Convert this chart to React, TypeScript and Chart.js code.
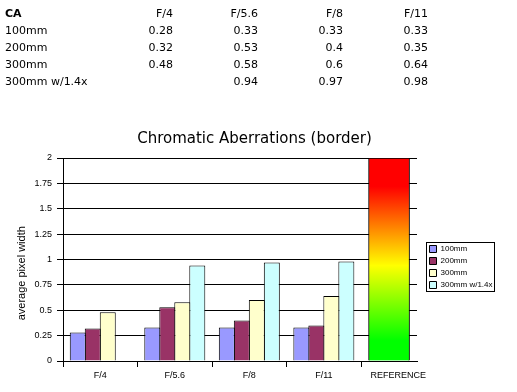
import React, { useEffect, useRef } from 'react';
import { Chart, registerables } from 'chart.js';

Chart.register(...registerables);

// ---------- data ----------
const tableHeader = 'CA';
const categories = ['F/4', 'F/5.6', 'F/8', 'F/11'];
const referenceCategory = 'REFERENCE';
const seriesNames = ['100mm', '200mm', '300mm', '300mm w/1.4x'];
const values100mm = [0.28, 0.33, 0.33, 0.33];
const values200mm = [0.32, 0.53, 0.4, 0.35];
const values300mm = [0.48, 0.58, 0.6, 0.64];
const values300mmTc = [null, 0.94, 0.97, 0.98];
const referenceValue = 2;
const yTickValues = [0, 0.25, 0.5, 0.75, 1, 1.25, 1.5, 1.75, 2];
const chartTitle = 'Chromatic Aberrations (border)';
const yAxisTitle = 'average pixel width';

const seriesValues = [values100mm, values200mm, values300mm, values300mmTc];
const seriesColors = ['#9999FF', '#993366', '#FFFFCC', '#CCFFFF'];

// x axis: category bands of width 1, the last (reference) band is narrower
const X_MIN = -0.5;
const X_MAX = 4.25;
const xLabels = [...categories, referenceCategory];
const referenceX = (categories.length - 0.5 + X_MAX) / 2;
// share of a category band covered by one group of bars
const GROUP_SHARE = 0.805;
// Chart.js sizes grouped bars from the smallest gap between x values on the axis
const MIN_GAP = Math.min(1, referenceX - (categories.length - 1));

const SANS = "'Liberation Sans', Arial, sans-serif";
const WIDE = "'DejaVu Sans', Verdana, sans-serif";

const tableRight = [173, 258, 343, 428];

function referenceGradient(ctx: any) {
  const chart = ctx.chart;
  const y = chart.scales && chart.scales.y;
  if (!y || !chart.chartArea) return '#ff0000';
  const g = chart.ctx.createLinearGradient(0, y.getPixelForValue(referenceValue), 0, y.getPixelForValue(0));
  g.addColorStop(0, '#ff0000');
  g.addColorStop(0.14, '#ff0000');
  g.addColorStop(0.53, '#ffff00');
  g.addColorStop(0.9, '#00ff00');
  g.addColorStop(1, '#00ff00');
  return g;
}

const legendBoxPlugin = {
  id: 'legendBox',
  afterLayout(chart: any) {
    const lg = chart.legend;
    if (!lg) return;
    lg.left += 8.5;
    lg.right = lg.left + 90;
    lg.width = 90;
    lg.top += 7.5;
    lg.bottom += 7.5;
  },
  afterDraw(chart: any) {
    const lg = chart.legend;
    if (!lg || !lg.legendHitBoxes || !lg.legendHitBoxes.length) return;
    const hb = lg.legendHitBoxes;
    const x0 = Math.min(...hb.map((h: any) => h.left)) - 3;
    const x1 = Math.max(...hb.map((h: any) => h.left + h.width)) + 1.5;
    const y0 = hb[0].top - 3;
    const last = hb[hb.length - 1];
    const y1 = last.top + last.height + 2.5;
    const c = chart.ctx;
    c.save();
    c.strokeStyle = '#000';
    c.lineWidth = 1;
    const px = (v: number) => Math.round(v - 0.5) + 0.5;
    c.strokeRect(px(x0), px(y0), px(x1) - px(x0), px(y1) - px(y0));
    c.restore();
  },
};

export default function App() {
  const ref = useRef<HTMLCanvasElement>(null);

  useEffect(() => {
    if (!ref.current) return;
    Chart.defaults.font.family = SANS;
    Chart.defaults.color = '#000';

    const datasets: any[] = seriesNames.map((name, s) => ({
      label: name,
      data: categories.map((_, i) => ({ x: i, y: seriesValues[s][i] })),
      backgroundColor: seriesColors[s],
      borderColor: '#000',
      borderWidth: 1,
      categoryPercentage: GROUP_SHARE / MIN_GAP,
      barPercentage: 16 / 15,
    }));
    datasets.push({
      label: referenceCategory,
      data: [{ x: referenceX, y: referenceValue }],
      backgroundColor: referenceGradient,
      borderColor: '#000',
      borderWidth: 1,
      grouped: false,
      barThickness: 41,
    });

    const chart = new Chart(ref.current, {
      type: 'bar',
      data: { datasets },
      options: {
        responsive: false,
        animation: false,
        devicePixelRatio: 1,
        layout: { padding: { top: 130, left: 32, right: 40, bottom: 8.2 } },
        plugins: {
          title: {
            display: true,
            text: chartTitle,
            color: '#000',
            font: { family: WIDE, size: 15, weight: 'normal' },
            padding: { top: 0, bottom: 10 },
          },
          legend: {
            position: 'right',
            fullSize: false,
            maxWidth: 60,
            labels: {
              boxWidth: 7,
              boxHeight: 7,
              padding: 4,
              color: '#000',
              font: { family: SANS, size: 8 },
              filter: (item: any) => item.datasetIndex < seriesNames.length,
            },
          },
          tooltip: { enabled: false },
        },
        scales: {
          x: {
            type: 'linear',
            min: X_MIN,
            max: X_MAX,
            offset: false,
            afterBuildTicks: (s: any) => {
              s.ticks = xLabels.map((_, i) => ({ value: i }));
            },
            ticks: {
              callback: (_v: any, i: number) => xLabels[i],
              color: '#000',
              font: { family: SANS, size: 9 },
              padding: 3,
              maxRotation: 0,
              autoSkip: false,
            },
            grid: { offset: true, drawOnChartArea: false, color: '#000', tickLength: 6 },
            border: { color: '#000' },
          },
          y: {
            min: 0,
            max: 2,
            afterBuildTicks: (s: any) => {
              s.ticks = yTickValues.map((v) => ({ value: v }));
            },
            afterFit: (s: any) => {
              s.width = 31;
            },
            ticks: {
              callback: (v: any) => String(v),
              color: '#000',
              font: { family: SANS, size: 9 },
              padding: 5,
            },
            grid: { color: '#000', tickLength: 6 },
            border: { color: '#000' },
            title: {
              display: true,
              text: yAxisTitle + '         ',
              color: '#000',
              font: { family: SANS, size: 11 },
              padding: { top: -16.6, bottom: 0 },
            },
          },
        },
      } as any,
      plugins: [legendBoxPlugin],
    });
    return () => chart.destroy();
  }, []);

  const rows: { label: string; bold: boolean; cells: string[] }[] = [
    { label: tableHeader, bold: true, cells: categories },
    ...seriesNames.map((n, s) => ({
      label: n,
      bold: false,
      cells: seriesValues[s].map((v) => (v === null ? '' : String(v))),
    })),
  ];

  return (
    <div
      style={{
        position: 'fixed',
        left: 0,
        top: 0,
        width: 517,
        height: 392,
        background: '#fff',
        overflow: 'hidden',
      }}
    >
      <canvas
        ref={ref}
        width={517}
        height={392}
        style={{ position: 'absolute', left: 0, top: 0, width: 517, height: 392 }}
      />
      <div style={{ position: 'absolute', left: 0, top: 0, width: 517, height: 100, fontFamily: WIDE, fontSize: 11, color: '#000' }}>
        {rows.map((r, ri) => (
          <div key={ri} style={{ position: 'absolute', left: 0, top: 5 + ri * 17, width: 517, height: 17, lineHeight: '17px', whiteSpace: 'nowrap' }}>
            <span style={{ position: 'absolute', left: 5, fontWeight: r.bold ? 'bold' : 'normal' }}>{r.label}</span>
            {r.cells.map((c, ci) => (
              <span key={ci} style={{ position: 'absolute', left: tableRight[ci] - 80, width: 80, textAlign: 'right' }}>{c}</span>
            ))}
          </div>
        ))}
      </div>
    </div>
  );
}
